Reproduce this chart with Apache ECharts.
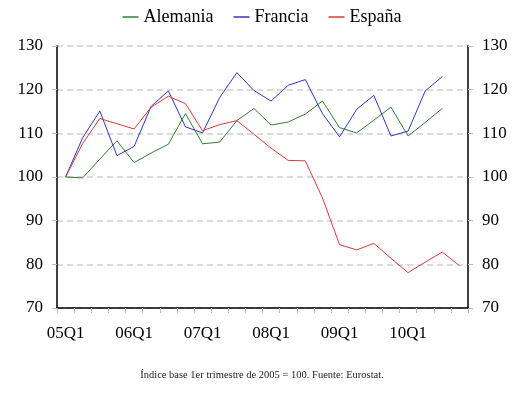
<!DOCTYPE html>
<html>
<head>
<meta charset="utf-8">
<script src="https://cdn.jsdelivr.net/npm/echarts@6/dist/echarts.min.js"></script>
<style>
html,body{margin:0;padding:0;background:#fff;}
#c{width:524px;height:395px;}
</style>
</head>
<body>
<div id="c"></div>
<script>
const categories = ['05Q1','05Q2','05Q3','05Q4','06Q1','06Q2','06Q3','06Q4','07Q1','07Q2','07Q3','07Q4','08Q1','08Q2','08Q3','08Q4','09Q1','09Q2','09Q3','09Q4','10Q1','10Q2','10Q3','10Q4'];
const alemania = [100, 99.8, 104.1, 108.3, 103.3, 105.5, 107.5, 114.5, 107.6, 108.0, 112.9, 115.7, 111.9, 112.6, 114.4, 117.4, 111.3, 110.1, 113.0, 116.0, 109.4, 112.5, 115.7, null];
const francia = [100, 109.0, 115.1, 104.9, 107.0, 116.2, 119.7, 111.5, 110.1, 118.2, 123.9, 119.8, 117.4, 121.0, 122.3, 114.5, 109.2, 115.5, 118.7, 109.4, 110.5, 119.7, 123.0, null];
const espana = [100, 107.7, 113.4, 112.2, 111.0, 116.0, 118.5, 116.8, 110.6, 112.0, 112.9, 109.8, 106.6, 103.8, 103.7, 95.2, 84.5, 83.3, 84.8, 81.4, 78.1, 80.5, 82.8, 79.7];
const seriesNames = ['Alemania', 'Francia', 'España'];
const colors = ['#2f7f35', '#3535c0', '#d83a3a'];
const footer = 'Índice base 1er trimestre de 2005 = 100. Fuente: Eurostat.';

const font = '"Liberation Serif", "DejaVu Serif", serif';
const chart = echarts.init(document.getElementById('c'), null, {renderer: 'canvas'});
const yAxisCommon = {
  type: 'value', min: 70, max: 130, interval: 10,
  axisLine: {show: true, lineStyle: {color: '#000', width: 1.5}},
  axisTick: {show: true, length: 5, lineStyle: {color: '#bbb'}},
  axisLabel: {color: '#000', fontSize: 17, fontFamily: font, margin: 14},
  splitLine: {show: true, lineStyle: {color: '#cfcfcf', type: [6, 4], width: 1.5}}
};
chart.setOption({
  animation: false,
  backgroundColor: '#fff',
  color: colors,
  title: {
    text: footer, left: 'center', bottom: 9,
    textStyle: {fontSize: 10.5, fontWeight: 'normal', color: '#222', fontFamily: font}
  },
  legend: {
    top: 3, left: 'center', itemWidth: 16, itemHeight: 1.5, itemGap: 20,
    icon: 'rect',
    textStyle: {fontSize: 18, color: '#000', fontFamily: font},
    data: seriesNames
  },
  grid: {left: 57, right: 56, top: 46, bottom: 87},
  xAxis: {
    type: 'category', data: categories, boundaryGap: true,
    axisLine: {lineStyle: {color: '#000', width: 1.5}},
    axisTick: {show: true, interval: 0, length: 5, lineStyle: {color: '#bbb'}},
    axisLabel: {interval: 3, color: '#000', fontSize: 17, fontFamily: font, margin: 17}
  },
  yAxis: [
    Object.assign({}, yAxisCommon, {position: 'left'}),
    Object.assign({}, yAxisCommon, {position: 'right', splitLine: {show: false}})
  ],
  series: [
    {name: seriesNames[0], type: 'line', data: alemania, showSymbol: false, lineStyle: {width: 1}},
    {name: seriesNames[1], type: 'line', data: francia, showSymbol: false, lineStyle: {width: 1}},
    {name: seriesNames[2], type: 'line', data: espana, showSymbol: false, lineStyle: {width: 1}}
  ]
});
</script>
</body>
</html>
